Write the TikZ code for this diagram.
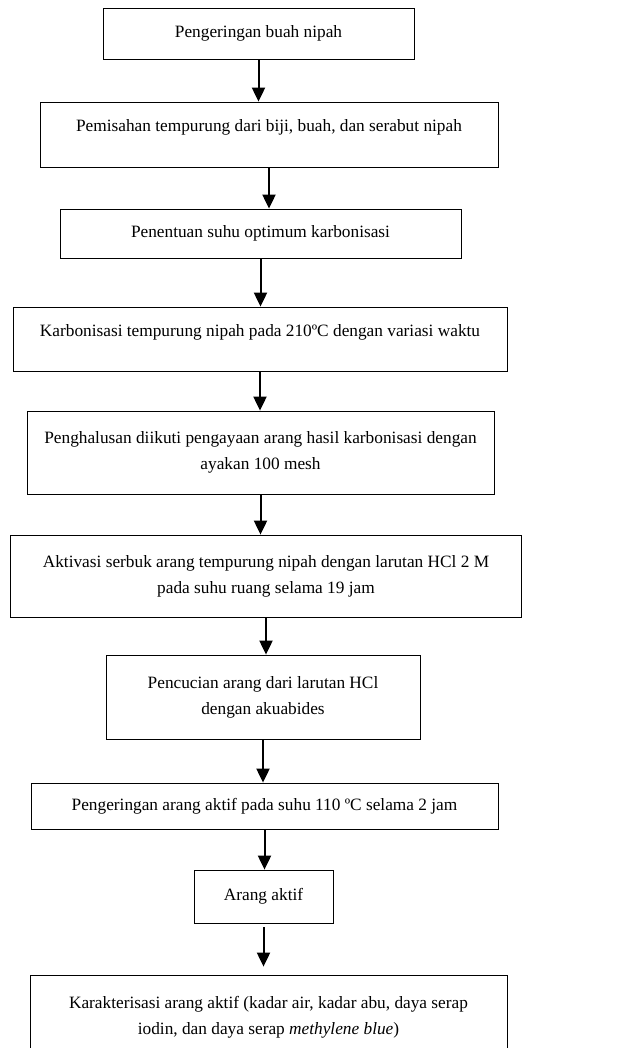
\documentclass[tikz,border=0pt]{standalone}
\usepackage{fontspec}
\setmainfont{Liberation Serif}
\usepackage{tikz}
\usetikzlibrary{arrows.meta}

\begin{document}
\begin{tikzpicture}[x=1pt, y=-1pt, >={Triangle[width=13pt,length=14pt]},
  stepbox/.style={draw, line width=0.8pt, inner sep=0pt, align=center,
    font=\fontsize{17.3}{26}\selectfont},
  raised/.style={text height=12pt, text depth=18pt},
  flow/.style={->, line width=2pt}]
\useasboundingbox (0,0) rectangle (643,1048);
\clip (0,0) rectangle (643,1048);

\node[stepbox, minimum width=311pt, minimum height=51pt] at (258.5,33.5) (dry) {Pengeringan buah nipah};
\node[stepbox, raised, minimum width=458pt, minimum height=65pt] at (269,134.5) (sep) {Pemisahan tempurung dari biji, buah, dan serabut nipah};
\node[stepbox, minimum width=401pt, minimum height=49pt] at (260.5,233.5) (opt) {Penentuan suhu optimum karbonisasi};
\node[stepbox, raised, minimum width=494pt, minimum height=64pt] at (260,339) (carb) {Karbonisasi tempurung nipah pada 210ºC dengan variasi waktu};
\node[stepbox, minimum width=467pt, minimum height=83pt] at (260.5,452.5) (grind) {Penghalusan diikuti pengayaan arang hasil karbonisasi dengan\\ayakan 100 mesh};
\node[stepbox, minimum width=511pt, minimum height=82pt] at (266,576) (act) {Aktivasi serbuk arang tempurung nipah dengan larutan HCl 2 M\\pada suhu ruang selama 19 jam};
\node[stepbox, minimum width=314pt, minimum height=84pt] at (263,697) (wash) {Pencucian arang dari larutan HCl\\dengan akuabides};
\node[stepbox, minimum width=467pt, minimum height=46pt] at (264.5,806) (heat) {Pengeringan arang aktif pada suhu 110 ºC selama 2 jam};
\node[stepbox, minimum width=139pt, minimum height=53pt] at (263.5,896.5) (ac) {Arang aktif};
\node[stepbox, minimum width=477pt, minimum height=84pt] at (268.5,1017) (char) {Karakterisasi arang aktif (kadar air, kadar abu, daya serap\\iodin, dan daya serap \textit{methylene blue})};

\draw[flow] (dry.south) -- (dry.south |- sep.north);
\draw[flow, xshift=-9pt] (sep.south) -- (sep.south |- opt.north);
\draw[flow] (opt.south) -- (opt.south |- carb.north);
\draw[flow] (carb.south) -- (carb.south |- grind.north);
\draw[flow, xshift=2.5pt] (grind.south) -- (grind.south |- act.north);
\draw[flow, xshift=-2pt] (act.south) -- (act.south |- wash.north);
\draw[flow] (wash.south) -- (wash.south |- heat.north);
\draw[flow, xshift=-1.5pt] (heat.south) -- (heat.south |- ac.north);
\draw[flow, shorten <=4pt, shorten >=8pt] (ac.south) -- (ac.south |- char.north);

\end{tikzpicture}
\end{document}
